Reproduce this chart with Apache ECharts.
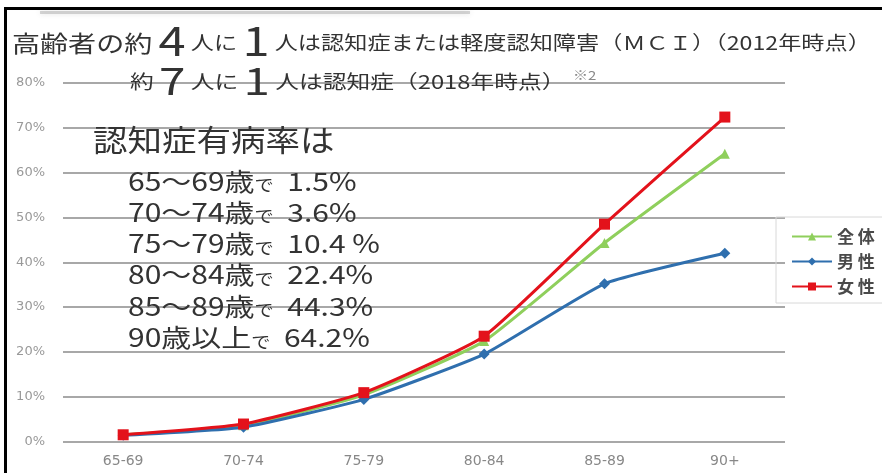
<!DOCTYPE html>
<html>
<head>
<meta charset="utf-8">
<script src="https://cdn.jsdelivr.net/npm/echarts@6/dist/echarts.min.js"></script>
<style>
  html, body { margin: 0; padding: 0; background: #fff; }
  #chart { width: 882px; height: 473px; }
</style>
</head>
<body>
<div id="chart"></div>
<script>
// Age groups on the horizontal axis
const ageGroups = ['65-69', '70-74', '75-79', '80-84', '85-89', '90+'];

// Dementia prevalence by age (%)
const allPeople = [1.5, 3.6, 10.4, 22.4, 44.3, 64.2];
const men = [1.4, 3.2, 9.4, 19.5, 35.2, 42.0];
const women = [1.5, 3.9, 10.9, 23.5, 48.5, 72.4];

const seriesNames = ['全体', '男性', '女性'];

// Rows of the annotation block: [age range, prevalence text]
const prevalenceRows = [
  ['65～69歳', '1.5%'],
  ['70～74歳', '3.6%'],
  ['75～79歳', '10.4 %'],
  ['80～84歳', '22.4%'],
  ['85～89歳', '44.3%'],
  ['90歳以上', '64.2%']
];

const yMin = 0, yMax = 80, yStep = 10;

const FONT = '"Noto Sans CJK JP", "Noto Sans", sans-serif';
const INK = '#333333';
const chart = echarts.init(document.getElementById('chart'), null, { renderer: 'canvas' });

// annotation rows, slightly widened type
const rowTexts = prevalenceRows.map((r, i) => ({
  type: 'text',
  x: 128,
  y: 181 + i * 31.3,
  scaleX: 1.2,
  z: 20,
  style: {
    text: '{a|' + r[0] + '}{d|で}{v|  ' + r[1] + '}',
    verticalAlign: 'middle',
    rich: {
      a: { fontSize: 25, fontFamily: FONT, fill: INK },
      d: { fontSize: 16, fontFamily: FONT, fill: INK, padding: [8, 0, 0, 0] },
      v: { fontSize: 25, fontFamily: FONT, fill: INK }
    }
  }
}));

const option = {
  backgroundColor: '#ffffff',
  animation: false,
  grid: { left: 63, right: 97, top: 83, bottom: 31.5 },
  xAxis: {
    type: 'category',
    data: ageGroups,
    boundaryGap: true,
    axisLine: { show: false },
    axisTick: { show: false },
    axisLabel: { color: '#888888', fontSize: 14, fontFamily: 'DejaVu Sans', margin: 13 }
  },
  yAxis: {
    type: 'value',
    min: yMin,
    max: yMax,
    interval: yStep,
    axisLine: { show: false },
    axisTick: { show: false },
    axisLabel: { formatter: '{value}%', color: '#999999', fontSize: 13, fontFamily: 'DejaVu Sans', margin: 18 },
    splitLine: { lineStyle: { color: '#a8a8a8', width: 2 } }
  },
  legend: {
    orient: 'vertical',
    left: 786,
    top: 223,
    itemWidth: 40,
    itemHeight: 10,
    itemGap: 8,
    data: seriesNames,
    formatter: n => n.split('').join(' '),
    textStyle: { fontSize: 17, fontFamily: FONT, color: '#4a4a4a', fontWeight: 'bold' }
  },
  series: [
    {
      name: seriesNames[0], type: 'line', data: allPeople, smooth: 0.15,
      symbol: 'triangle', symbolSize: 10,
      lineStyle: { color: '#8fcf5c', width: 3 },
      itemStyle: { color: '#8fcf5c' }, z: 3
    },
    {
      name: seriesNames[1], type: 'line', data: men, smooth: 0.15,
      symbol: 'diamond', symbolSize: 11,
      lineStyle: { color: '#2f6fae', width: 3 },
      itemStyle: { color: '#2f6fae' }, z: 4
    },
    {
      name: seriesNames[2], type: 'line', data: women, smooth: 0.15,
      symbol: 'rect', symbolSize: 11,
      lineStyle: { color: '#e3121b', width: 3 },
      itemStyle: { color: '#e3121b' }, z: 5
    }
  ],
  graphic: [
    // frame edges and soft shadow under the top edge
    { type: 'rect', shape: { x: 40, y: 11, width: 430, height: 3 }, style: { fill: 'rgba(140,140,140,0.35)', shadowBlur: 5, shadowColor: 'rgba(120,120,120,0.6)' }, z: 29 },
    { type: 'rect', shape: { x: 4, y: 7, width: 3, height: 470 }, style: { fill: '#000' }, z: 30 },
    { type: 'rect', shape: { x: 4, y: 7, width: 882, height: 3 }, style: { fill: '#000' }, z: 30 },
    // legend box
    { type: 'rect', shape: { x: 776, y: 217, width: 110, height: 86 }, style: { fill: 'rgba(0,0,0,0)', stroke: '#d8d8d8', lineWidth: 1 }, z: 1 },
    // headline
    {
      type: 'text', x: 12, y: 41, scaleX: 1.22, z: 20,
      style: {
        text: '{h|高齢者の約 }{b|4}{s| 人に }{b|1}{s| 人は認知症または軽度認知障害（ＭＣＩ）（2012年時点）}',
        verticalAlign: 'middle',
        rich: {
          h: { fontSize: 23, fontFamily: FONT, fill: INK, padding: [4, 0, 0, 0] },
          s: { fontSize: 19, fontFamily: FONT, fill: INK, padding: [4, 0, 0, 0] },
          b: { fontSize: 40, fontFamily: FONT, fill: INK }
        }
      }
    },
    {
      type: 'text', x: 130, y: 81, scaleX: 1.25, z: 20,
      style: {
        text: '{s|約 }{b|7}{s| 人に }{b|1}{s| 人は認知症（2018年時点）}{n|※2}',
        verticalAlign: 'middle',
        rich: {
          s: { fontSize: 19, fontFamily: FONT, fill: INK, padding: [2, 0, 0, 0] },
          b: { fontSize: 38, fontFamily: FONT, fill: INK },
          n: { fontSize: 12, fontFamily: FONT, fill: '#888', padding: [0, 0, 12, 6] }
        }
      }
    },
    {
      type: 'text', x: 93, y: 140, scaleX: 1.15, z: 20,
      style: { text: '認知症有病率は', fontSize: 30, fontFamily: FONT, fill: INK, verticalAlign: 'middle' }
    }
  ].concat(rowTexts)
};

chart.setOption(option);
</script>
</body>
</html>
